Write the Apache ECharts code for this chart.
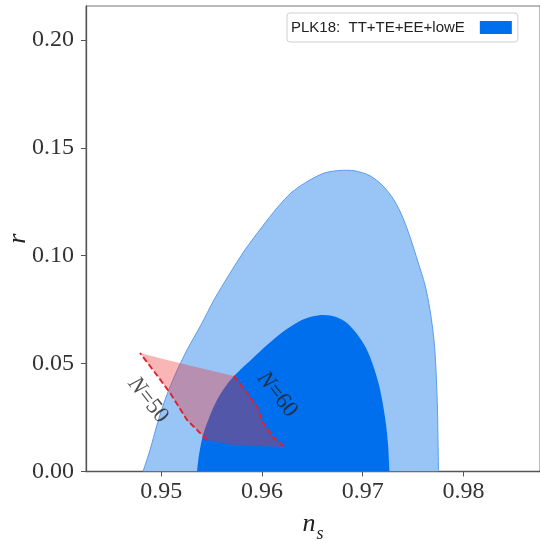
<!DOCTYPE html>
<html>
<head>
<meta charset="utf-8">
<script src="https://cdn.jsdelivr.net/npm/echarts@6/dist/echarts.min.js"></script>
<style>
html,body{margin:0;padding:0;background:#fff;}
#chart{width:540px;height:543px;}
</style>
</head>
<body>
<div id="chart"></div>
<script>
// ---- data ----
const outerNs = [0.94818,0.94888,0.94957,0.95037,0.95136,0.95255,0.95394,0.95523,0.95672,0.95831,0.96000,0.96149,0.96298,0.96477,0.96626,0.96775,0.96924,0.97073,0.97202,0.97311,0.97400,0.97480,0.97549,0.97619,0.97668,0.97708,0.97728,0.97743,0.97748,0.97753];
const outerR  = [0.0000,0.0100,0.0216,0.0332,0.0447,0.0563,0.0679,0.0795,0.0911,0.1027,0.1133,0.1221,0.1295,0.1351,0.1384,0.1395,0.1393,0.1370,0.1323,0.1258,0.1175,0.1073,0.0971,0.0864,0.0749,0.0610,0.0470,0.0285,0.0146,0.0000];

const innerNs = [0.95355,0.95374,0.95414,0.95474,0.95553,0.95662,0.95782,0.95911,0.96050,0.96209,0.96358,0.96497,0.96616,0.96735,0.96844,0.96943,0.97033,0.97102,0.97162,0.97202,0.97232,0.97252,0.97266];
const innerR  = [0.0000,0.0076,0.0169,0.0248,0.0331,0.0410,0.0470,0.0526,0.0586,0.0647,0.0693,0.0718,0.0725,0.0716,0.0688,0.0637,0.0572,0.0494,0.0401,0.0308,0.0216,0.0123,0.0000];

// red region edges
const topNs = [0.94788,0.95057,0.95384,0.95722];
const topR  = [0.0549,0.0517,0.0480,0.0443];
const n60Ns = [0.95722,0.95851,0.95950,0.96010,0.96109,0.96228];
const n60R  = [0.0443,0.0364,0.0299,0.0225,0.0160,0.0114];
const botNs = [0.96228,0.95960,0.95712,0.95454];
const botR  = [0.0114,0.0118,0.0123,0.0146];
const n50Ns = [0.95454,0.95255,0.95087,0.94918,0.94788];
const n50R  = [0.0146,0.0239,0.0364,0.0470,0.0549];

const labelNames = ['N=50','N=60'];
const labelNs = [0.94868,0.96150];
const labelR  = [0.0331,0.0357];

const xTicks = [0.95,0.96,0.97,0.98];
const yTicks = [0.00,0.05,0.10,0.15,0.20];
const legendName = 'PLK18:  TT+TE+EE+lowE';

// ---- helpers ----
function pairs(xs, ys){ return xs.map((x,i)=>[x, ys[i]]); }
const outerPts = pairs(outerNs, outerR);
const innerPts = pairs(innerNs, innerR);
const redPts = pairs(topNs, topR).concat(pairs(n60Ns, n60R).slice(1), pairs(botNs, botR).slice(1), pairs(n50Ns, n50R).slice(1, -1));

// contour: smooth upper boundary, fill closes along the baseline r = 0
function polySeries(name, pts, style, z){
  return {
    type: 'custom', name: name, z: z, clip: true,
    itemStyle: {color: style.fill},
    data: pts,
    encode: {x: 0, y: 1},
    renderItem: function(params, api){
      if (params.dataIndex !== 0) return;
      const p = pts.map(d => api.coord(d));
      if (style.open) {
        return {type: 'polyline', shape: {points: p, smooth: 0.3},
                style: {fill: style.fill, stroke: style.stroke || 'none', lineWidth: style.lw || 0}};
      }
      return {type: 'polygon', shape: {points: p}, style: {fill: style.fill}};
    },
    silent: true
  };
}

const chart = echarts.init(document.getElementById('chart'), null, {renderer: 'canvas'});
const serif = 'Liberation Serif';
chart.setOption({
  animation: false,
  backgroundColor: '#fff',
  grid: {left: 86, right: 0, top: 6, bottom: 71.5, show: true, borderColor: '#777', borderWidth: 1,
         containLabel: false, outerBoundsMode: 'none'},
  legend: {
    left: 287, top: 13, data: [legendName], align: 'right', icon: 'rect',
    itemWidth: 32, itemHeight: 13, padding: [7, 6, 7, 4],
    borderColor: '#d0d0d0', borderWidth: 1, borderRadius: 3, backgroundColor: '#fff',
    textStyle: {fontFamily: 'Liberation Sans', fontSize: 15, color: '#222', padding: [0, 10, 0, 0]}
  },
  xAxis: {
    type: 'value', min: 0.94252, max: 0.98761,
    name: '{i|n}{s|s}', nameLocation: 'middle', nameGap: 40, nameMoveOverlap: false,
    nameTextStyle: {rich: {
      i: {fontFamily: serif, fontStyle: 'italic', fontSize: 26, color: '#222', verticalAlign: 'bottom', lineHeight: 26},
      s: {fontFamily: serif, fontStyle: 'italic', fontSize: 18, color: '#222', verticalAlign: 'bottom', lineHeight: 20, padding: [0,0,-6,1]}
    }},
    axisLine: {show: true, lineStyle: {color: '#555', width: 1.3}},
    axisTick: {show: true, length: 5, lineStyle: {color: '#555'}, customValues: xTicks},
    axisLabel: {customValues: xTicks, formatter: v => v.toFixed(2), fontFamily: serif, fontSize: 24, color: '#333', margin: 8},
    splitLine: {show: false}
  },
  yAxis: {
    type: 'value', min: 0, max: 0.2157,
    name: 'r', nameLocation: 'middle', nameGap: 55, nameRotate: 90, nameMoveOverlap: false,
    nameTextStyle: {fontFamily: serif, fontStyle: 'italic', fontSize: 26, color: '#222'},
    axisLine: {show: true, lineStyle: {color: '#555', width: 1.3}},
    axisTick: {show: true, length: 5, lineStyle: {color: '#555'}, customValues: yTicks},
    axisLabel: {customValues: yTicks, formatter: v => v.toFixed(2), fontFamily: serif, fontSize: 24, color: '#333', margin: 12},
    splitLine: {show: false}
  },
  series: [
    polySeries('outer', outerPts, {fill: '#99c4f6', stroke: '#5b9ceb', lw: 1, open: true}, 1),
    polySeries(legendName, innerPts, {fill: '#006FED', open: true}, 2),
    polySeries('red', redPts, {fill: 'rgba(240,40,40,0.34)'}, 3),
    {type: 'line', data: pairs(n50Ns, n50R), symbol: 'none', z: 4, silent: true,
     lineStyle: {color: '#e3202a', width: 1.9, type: [6, 3]}},
    {type: 'line', data: pairs(n60Ns, n60R), symbol: 'none', z: 4, silent: true,
     lineStyle: {color: '#e3202a', width: 1.9, type: [6, 3]}},
    {type: 'scatter', symbolSize: 0, z: 5, silent: true,
     data: labelNames.map((n,i)=>({value: [labelNs[i], labelR[i]], name: n})),
     label: {show: true, position: 'inside', rotate: -52,
       formatter: p => '{i|N}{t|' + p.name.slice(1) + '}',
       rich: {i: {fontFamily: serif, fontStyle: 'italic', fontSize: 23, color: '#222'},
              t: {fontFamily: serif, fontSize: 23, color: '#222'}}}}
  ]
});
</script>
</body>
</html>
